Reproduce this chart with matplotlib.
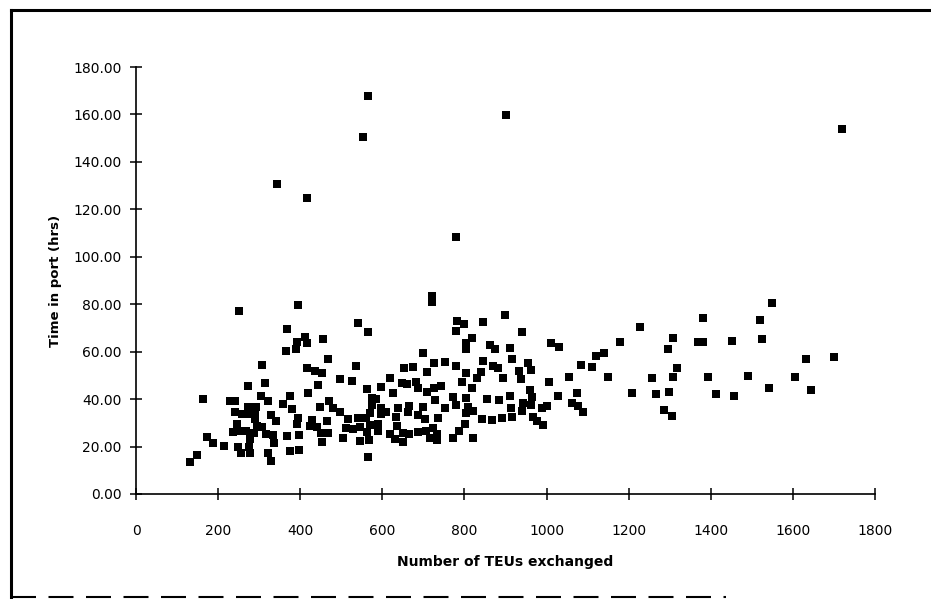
import numpy as np
import matplotlib.pyplot as plt
from matplotlib.lines import Line2D

# values (TEUs exchanged, hours in port)
teus = [
    251, 394, 368, 391, 365, 389, 308, 272, 313, 162, 229, 240, 304, 321, 375, 359, 381, 273, 292, 241,
    257, 278, 290, 290, 328, 340, 395, 245, 294, 308, 391, 237, 251, 267, 287, 316, 333, 367, 397, 172,
    188, 214, 249, 278, 276, 337, 322, 255, 278, 375, 397, 149, 132, 329,
    722, 541, 566, 781, 799, 779, 412, 416, 456, 805, 805, 700, 467, 416, 436, 452, 535, 653, 675, 619,
    710, 726, 753, 779, 497, 525, 444, 562, 597, 625, 647, 659, 682, 686, 710, 726, 742, 793, 805, 420,
    574, 584, 728, 773, 805, 471, 448, 479, 576, 596, 639, 663, 665, 686, 698, 753, 779, 805, 497, 570,
    596, 610, 633, 704, 735, 428, 517, 541, 560, 464, 424, 440, 511, 529, 546, 570, 590, 635, 801, 451,
    467, 563, 590, 619, 650, 665, 688, 706, 724, 732, 787, 505, 546, 568, 631, 651, 716, 732, 773, 452,
    566,
    899, 846, 941, 1227, 818, 862, 874, 911, 1012, 1030, 1179, 846, 915, 870, 882, 955, 962, 934, 840, 830,
    895, 938, 818, 1006, 1055, 1084, 1110, 1120, 1140, 1150, 1209, 854, 885, 911, 960, 964, 1028, 1073, 1063, 1076,
    1090, 809, 821, 913, 943, 962, 941, 917, 990, 1000, 842, 866, 892, 968, 977, 992, 820,
    1550, 1382, 1521, 1308, 1369, 1382, 1452, 1524, 1296, 1631, 1701, 1317, 1258, 1308, 1394, 1490, 1605, 1266, 1299, 1412,
    1457, 1542, 1644, 1287, 1306,
    566, 554, 343, 416, 779, 722, 901, 1719,
]
hours = [
    77.2, 79.7, 69.4, 64.0, 60.3, 61.0, 54.4, 45.5, 46.7, 40.0, 39.2, 39.2, 41.4, 39.2, 41.4, 37.8, 35.8, 36.8, 36.8, 34.7,
    33.6, 33.7, 34.4, 31.6, 33.3, 30.8, 31.9, 29.4, 28.7, 28.4, 29.4, 26.0, 26.6, 26.6, 25.6, 25.3, 24.9, 24.5, 24.9, 24.2,
    21.6, 20.2, 19.9, 23.2, 19.9, 21.6, 17.4, 17.4, 17.4, 18.1, 18.5, 16.4, 13.4, 13.9,
    80.8, 72.2, 68.2, 73.0, 71.7, 68.9, 66.3, 63.5, 65.2, 63.5, 61.1, 59.6, 56.8, 53.0, 51.9, 51.2, 54.1, 53.3, 53.7, 49.0,
    51.3, 55.1, 55.5, 54.0, 48.3, 47.6, 46.0, 44.1, 45.2, 42.4, 46.7, 46.2, 47.3, 44.5, 42.8, 44.5, 45.5, 47.3, 51.2, 42.4,
    40.3, 40.0, 39.6, 41.0, 40.3, 39.2, 36.8, 36.4, 37.5, 36.4, 36.1, 34.7, 37.1, 33.2, 36.6, 36.4, 37.5, 34.0, 34.4, 34.0,
    33.7, 34.7, 32.3, 31.5, 31.9, 31.2, 31.5, 31.9, 32.2, 30.8, 28.7, 28.4, 28.0, 27.4, 28.1, 29.1, 29.5, 28.7, 29.4, 25.6,
    25.8, 26.0, 26.6, 25.3, 25.6, 25.2, 26.3, 26.6, 27.7, 25.3, 26.6, 23.7, 22.5, 22.8, 23.0, 22.0, 23.5, 22.8, 23.7, 22.0,
    15.7,
    75.5, 72.6, 68.2, 70.5, 65.6, 62.8, 61.0, 61.4, 63.8, 62.1, 64.2, 56.1, 56.8, 54.1, 53.3, 55.4, 52.3, 51.9, 51.3, 48.8,
    48.8, 48.5, 44.5, 47.1, 49.2, 54.4, 53.7, 58.2, 59.3, 49.5, 42.7, 39.9, 39.6, 41.4, 43.8, 40.8, 41.3, 42.4, 38.2, 37.1,
    34.4, 36.8, 35.0, 36.1, 38.2, 37.5, 35.0, 32.3, 36.1, 37.1, 31.6, 31.2, 31.9, 32.3, 30.9, 29.1, 23.7,
    80.4, 74.3, 73.4, 65.9, 64.2, 64.2, 64.6, 65.3, 61.0, 56.9, 57.6, 53.3, 48.8, 49.2, 49.5, 49.7, 49.5, 42.0, 43.1, 42.2,
    41.4, 44.8, 43.8, 35.4, 33.0,
    167.8, 150.4, 130.6, 124.9, 108.2, 83.6, 159.8, 153.9,
]

x_ticks = np.arange(0, 1801, 200)
y_ticks = np.arange(0, 181, 20)

plt.rcParams['font.family'] = ['DejaVu Sans']

fig = plt.figure(figsize=(9.31, 5.99), dpi=100)
ax = fig.add_axes([0.1461, 0.1753, 0.7937, 0.7128])

ax.scatter(teus, hours, marker='s', s=26, color='black', linewidths=0, clip_on=False, zorder=3)

ax.set_xlim(0, 1800)
ax.set_ylim(0, 180)
ax.set_xticks(x_ticks)
ax.set_yticks(y_ticks)
ax.set_yticklabels([f'{v:.2f}' for v in y_ticks])

for side in ['top', 'right']:
    ax.spines[side].set_visible(False)
for side in ['left', 'bottom']:
    ax.spines[side].set_linewidth(1.2)

ax.tick_params(axis='both', direction='inout', length=9, width=1.1, labelsize=10, colors='black')
ax.tick_params(axis='x', pad=17)
ax.tick_params(axis='y', pad=6)

ax.set_xlabel('Number of TEUs exchanged', fontsize=10, fontweight='bold', labelpad=12)
ax.set_ylabel('Time in port (hrs)', fontsize=9.5, fontweight='bold', labelpad=8)

# scanned page frame
fig.add_artist(Line2D([0.0118, 0.0118], [0.003, 0.984], color='black', linewidth=2.2))
fig.add_artist(Line2D([0.0118, 1.0], [0.984, 0.984], color='black', linewidth=2.2))
fig.add_artist(Line2D([0.0118, 0.78], [0.004, 0.004], color='black', linewidth=1.5,
                      linestyle=(0, (12, 6))))

fig.savefig('out.png', dpi=100, facecolor='white')
